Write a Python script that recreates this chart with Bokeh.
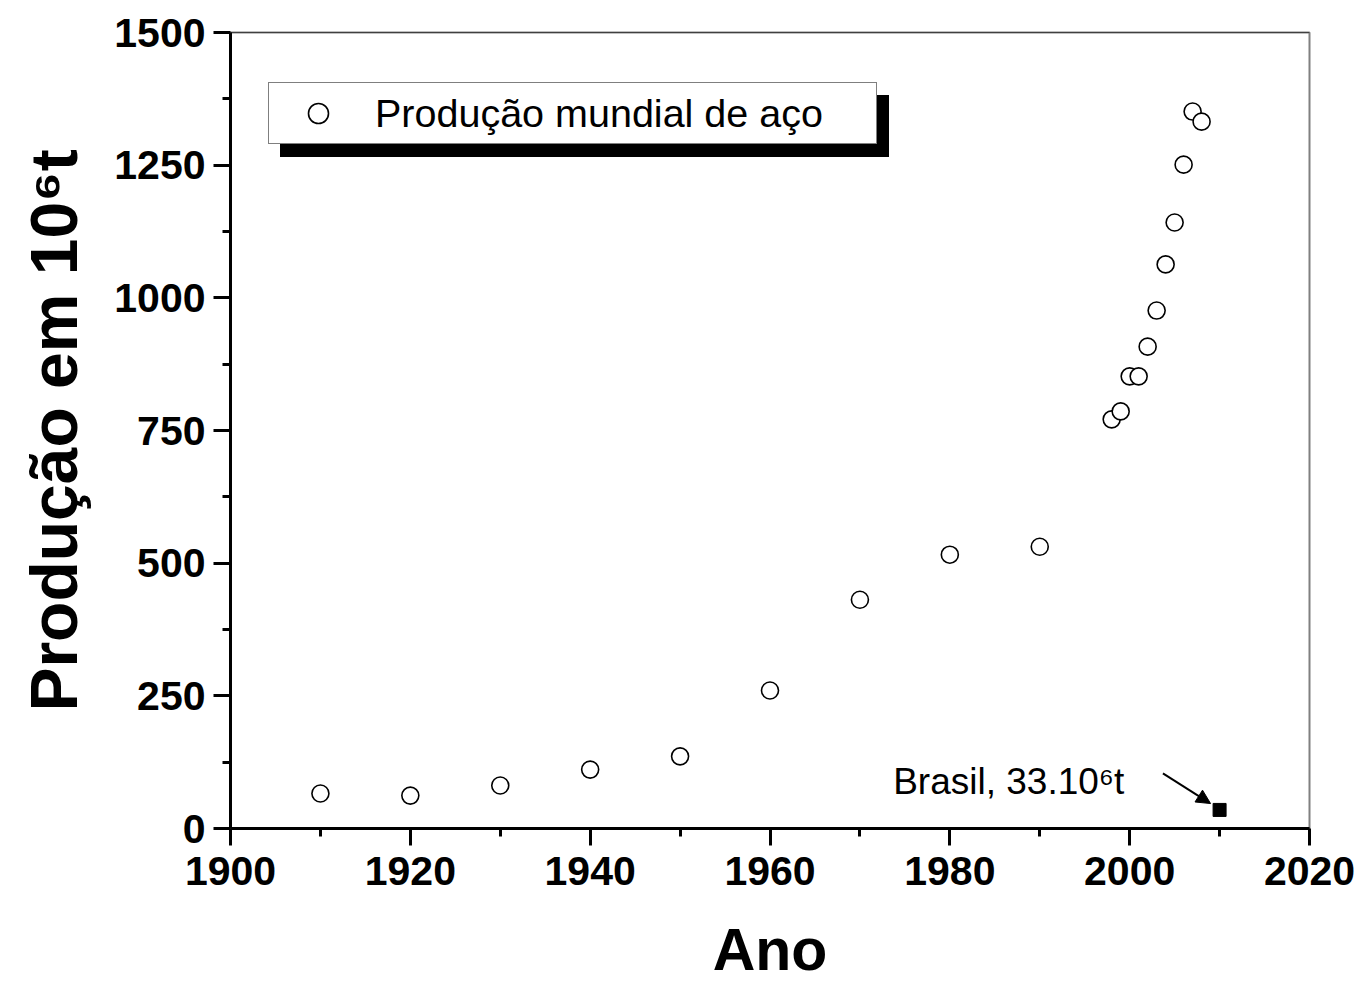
from bokeh.plotting import figure
from bokeh.models import (Range1d, FixedTicker, Legend, LegendItem, Label, Arrow,
                          NormalHead, Span)
from bokeh.embed import file_html
from bokeh.resources import INLINE

# ---- data ----
years = [1910, 1920, 1930, 1940, 1950, 1960, 1970, 1980, 1990,
         1998, 1999, 2000, 2001, 2002, 2003, 2004, 2005, 2006, 2007, 2008]
production = [66, 62, 81, 111, 136, 260, 431, 516, 531,
              771, 786, 852, 852, 908, 976, 1063, 1142, 1251, 1351, 1332]
brasil_year = [2010]
brasil_prod = [35]
x_ticks = [1900, 1920, 1940, 1960, 1980, 2000, 2020]
x_minor = [1910, 1930, 1950, 1970, 1990, 2010]
y_ticks = [0, 250, 500, 750, 1000, 1250, 1500]
y_minor = [125, 375, 625, 875, 1125, 1375]

FONT = "Liberation Sans"

p = figure(frame_width=1079, frame_height=796,
           min_border_left=230, min_border_right=52,
           min_border_top=32, min_border_bottom=158,
           x_range=Range1d(1900, 2020), y_range=Range1d(0, 1500),
           output_backend="svg", toolbar_location=None,
           background_fill_color="white", border_fill_color="white")
p.grid.visible = False
p.outline_line_color = "#808080"
p.outline_line_width = 2

for ax in (p.xaxis[0], p.yaxis[0]):
    ax.axis_line_width = 3
    ax.axis_line_color = "black"
    ax.major_tick_line_width = 3
    ax.minor_tick_line_width = 3
    ax.major_tick_out = 17
    ax.major_tick_in = 0
    ax.minor_tick_out = 8
    ax.minor_tick_in = 0
    ax.major_label_text_font = FONT
    ax.major_label_text_font_style = "bold"
    ax.major_label_text_font_size = "41px"
    ax.major_label_text_color = "black"
    ax.axis_label_text_font = FONT
    ax.axis_label_text_font_style = "bold"
    ax.axis_label_text_color = "black"

p.xaxis[0].ticker = FixedTicker(ticks=x_ticks, minor_ticks=x_minor)
p.yaxis[0].ticker = FixedTicker(ticks=y_ticks, minor_ticks=y_minor)
p.xaxis[0].major_label_standoff = 11
p.yaxis[0].major_label_standoff = 8
p.xaxis[0].axis_label = "Ano"
p.xaxis[0].axis_label_text_font_size = "59px"
p.xaxis[0].axis_label_standoff = 29
p.yaxis[0].axis_label = "Produção em 10⁶t"
p.yaxis[0].axis_label_text_font_size = "66px"
p.yaxis[0].axis_label_standoff = 20

# thin black top edge of the frame (right edge stays grey)
p.add_layout(Span(location=1500, dimension="width", line_color="black", line_width=1.2))

r = p.scatter(years, production, marker="circle", size=17,
              fill_color="white", line_color="black", line_width=1.6)
p.scatter(brasil_year, brasil_prod, marker="square", size=13,
          fill_color="black", line_color="black")

p.add_layout(Arrow(end=NormalHead(size=14, fill_color="black", line_color="black"),
                   x_start=2003.7, y_start=104, x_end=2009.0, y_end=47,
                   line_width=2, line_color="black"))
p.add_layout(Label(x=1973.7, y=89, text="Brasil, 33.10⁶t",
                   text_font=FONT, text_font_size="37px", text_color="black",
                   text_baseline="alphabetic"))

def make_legend(label, loc, bg, text_color):
    return Legend(items=[LegendItem(label=label, renderers=[r])],
                  location=loc, orientation="vertical",
                  background_fill_color=bg, background_fill_alpha=1.0,
                  border_line_color="black", border_line_width=1.5,
                  padding=5, margin=0, spacing=0,
                  glyph_width=88, glyph_height=50,
                  label_standoff=13, label_width=496, label_height=50,
                  label_text_font=FONT, label_text_font_size="39.5px",
                  label_text_color=text_color)

# shadow (drawn first, offset down-right), then the real legend
shadow = make_legend("", (50, 671), "black", "black")
legend = make_legend("Produção mundial de aço", (38, 684), "white", "black")
p.add_layout(shadow)
p.add_layout(legend)

open("out.html", "w").write(file_html(p, INLINE))
